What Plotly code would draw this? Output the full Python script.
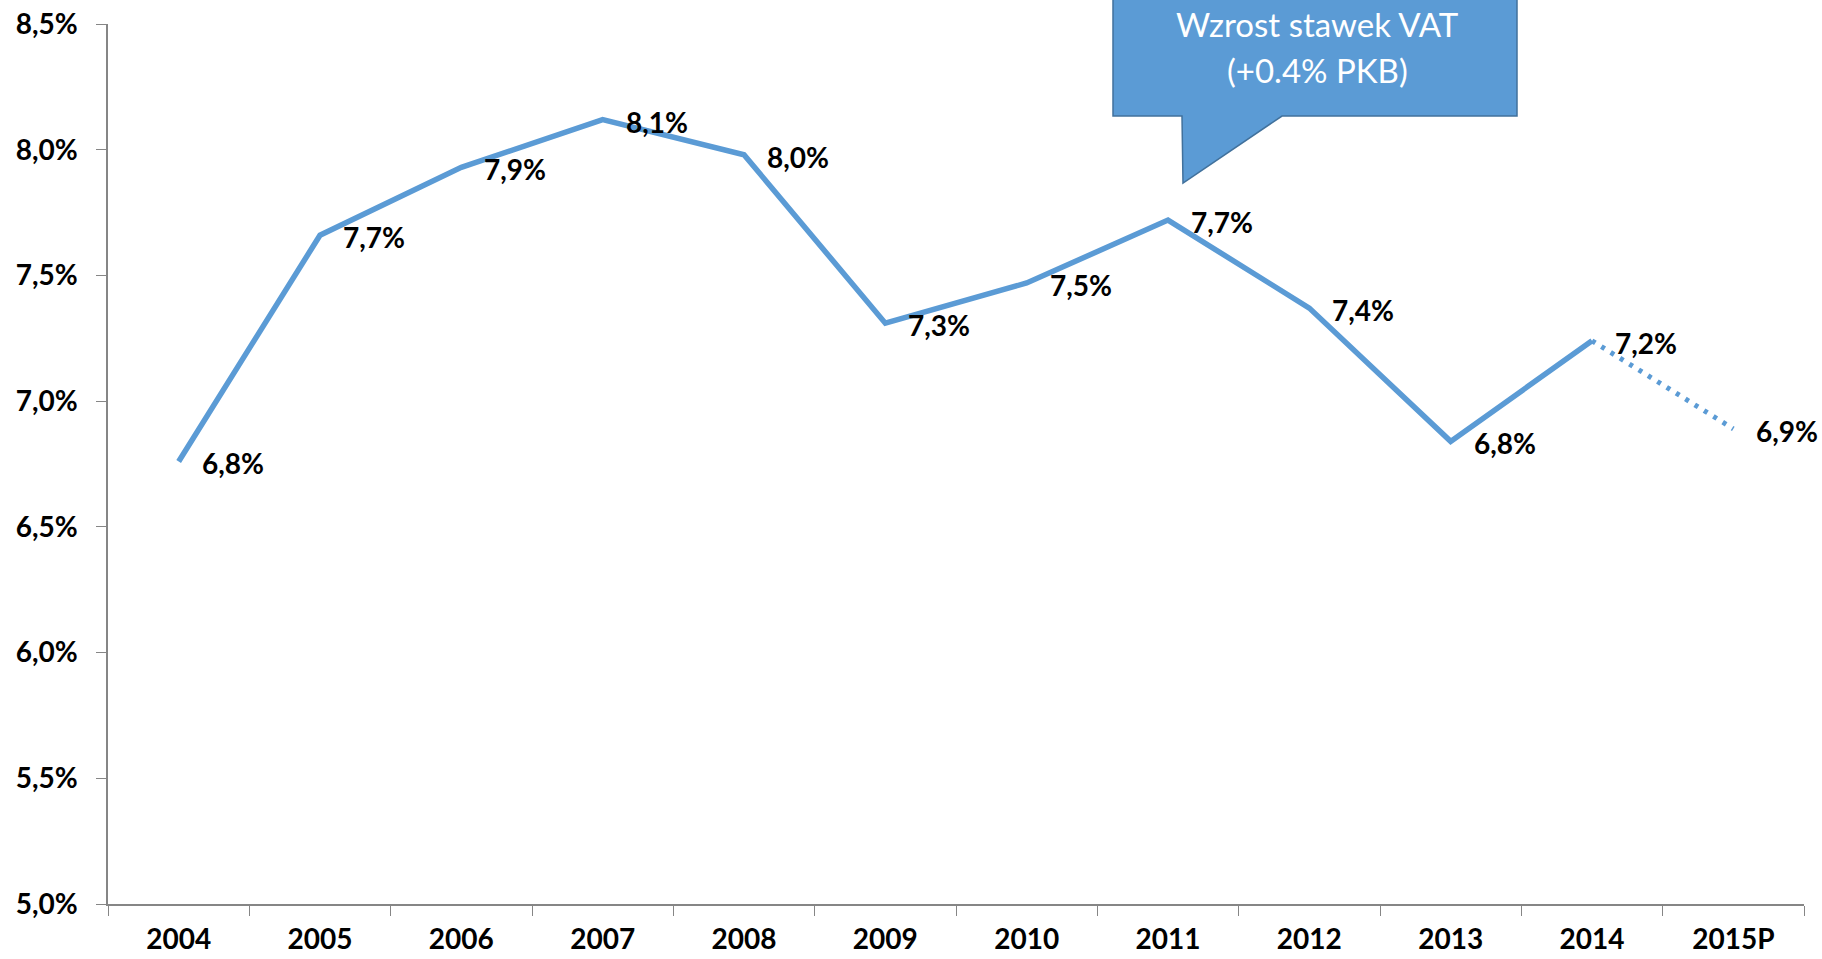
import plotly.graph_objects as go

# data
years = ["2004", "2005", "2006", "2007", "2008", "2009", "2010",
         "2011", "2012", "2013", "2014", "2015P"]
values = [6.76, 7.66, 7.93, 8.12, 7.98, 7.31, 7.47, 7.72, 7.37, 6.84, 7.24, 6.89]
y_ticks = [5.0, 5.5, 6.0, 6.5, 7.0, 7.5, 8.0, 8.5]
callout_lines = ["Wzrost stawek VAT", "(+0.4% PKB)"]

blue = "#5B9BD5"
font_family = "Lato, 'Open Sans', sans-serif"

W, H = 1822, 959
L, R, T, B = 108, 18, 24, 55

fig = go.Figure()

# actual values (solid)
fig.add_trace(go.Scatter(
    x=years[:-1], y=values[:-1], mode="lines",
    line=dict(color=blue, width=5.5), hoverinfo="x+y"
))
# forecast (dotted)
fig.add_trace(go.Scatter(
    x=years[-2:], y=values[-2:], mode="lines",
    line=dict(color=blue, width=5, dash="4px,7px"), hoverinfo="x+y"
))

# data labels (x as category index, numeric-looking strings confuse annotations)
for i, v in enumerate(values):
    fig.add_annotation(
        x=i, y=v, xref="x", yref="y",
        text=f"{v:.1f}%".replace(".", ","),
        showarrow=False, xanchor="center", yanchor="middle",
        xshift=54, yshift=-2,
        font=dict(family=font_family, size=28, color="black", weight="bold")
    )

# callout bubble, given in page pixels
pw = W - L - R
ph = H - T - B
def px_to_paper(px, py):
    return (px - L) / pw, (T + ph - py) / ph

pts = [(1113, -3), (1517, -3), (1517, 116), (1282, 116), (1183, 183), (1182, 116), (1113, 116)]
path = ""
for i, (a, b) in enumerate(pts):
    xp, yp = px_to_paper(a, b)
    path += ("M" if i == 0 else "L") + f"{xp:.5f},{yp:.5f} "
path += "Z"
fig.add_shape(type="path", path=path, xref="paper", yref="paper",
              fillcolor=blue, line=dict(color="#41719C", width=1.5), layer="above")

for txt, py in zip(callout_lines, [24, 70]):
    xp, yp = px_to_paper(1317, py)
    fig.add_annotation(
        x=xp, y=yp, xref="paper", yref="paper", text=txt, showarrow=False,
        xanchor="center", yanchor="middle",
        font=dict(family=font_family, size=33, color="white")
    )

fig.update_layout(
    width=W, height=H,
    margin=dict(l=L, r=R, t=T, b=B, autoexpand=False),
    paper_bgcolor="white", plot_bgcolor="white",
    showlegend=False,
    font=dict(family=font_family, color="black"),
    xaxis=dict(
        type="category", categoryorder="array", categoryarray=years,
        range=[-0.5, len(years) - 0.5], automargin=False,
        showline=True, linecolor="#868686", linewidth=1.5,
        ticks="outside", tickson="boundaries", ticklen=10, tickcolor="#868686",
        showgrid=False, zeroline=False,
        tickfont=dict(size=28, weight="bold", family=font_family),
        ticklabelstandoff=10, ticklabeloverflow="allow"
    ),
    yaxis=dict(
        range=[5.0, 8.5], tickvals=y_ticks, automargin=False,
        ticktext=[f"{t:.1f}%".replace(".", ",") for t in y_ticks],
        showline=True, linecolor="#868686", linewidth=1.5,
        ticks="outside", ticklen=10, tickcolor="#868686",
        showgrid=False, zeroline=False,
        tickfont=dict(size=28, weight="bold", family=font_family),
        ticklabelstandoff=13, ticklabeloverflow="allow"
    ),
)

# drop the default page margin so the figure fills the window exactly
fig.write_html("out.html", config={"displayModeBar": False},
               post_script="document.body.style.margin='0';document.body.style.overflow='hidden';")
